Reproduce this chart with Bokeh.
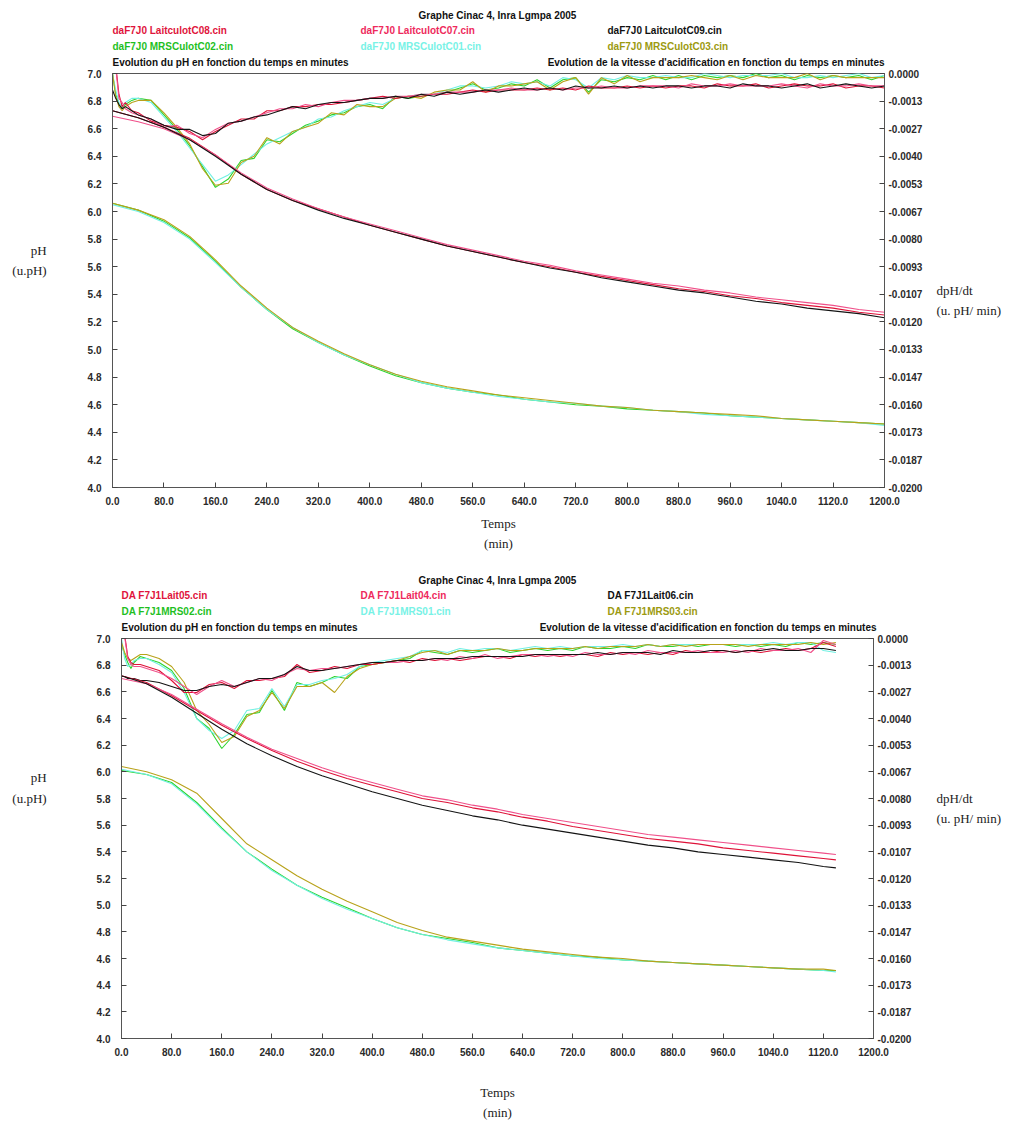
from bokeh.plotting import figure
from bokeh.models import Range1d, LinearAxis, FixedTicker, PrintfTickFormatter
from bokeh.layouts import column
from bokeh.core.properties import value
from bokeh.embed import file_html
from bokeh.resources import INLINE

# ---------------- tick values ----------------
x_ticks = [0, 80, 160, 240, 320, 400, 480, 560, 640, 720, 800, 880, 960, 1040, 1120, 1200]
ph_ticks = [4.0, 4.2, 4.4, 4.6, 4.8, 5.0, 5.2, 5.4, 5.6, 5.8, 6.0, 6.2, 6.4, 6.6, 6.8, 7.0]
d_ticks = [0.0, -0.00133, -0.00267, -0.0040, -0.00533, -0.00667, -0.0080, -0.00933,
           -0.01067, -0.0120, -0.01333, -0.01467, -0.0160, -0.01733, -0.01867, -0.0200]

# ---------------- chart 1 : daF7J0 ----------------
t_ph1 = [0, 40, 80, 120, 160, 200, 240, 280, 320, 360, 400, 440, 480, 520, 560, 600,
         640, 680, 720, 760, 800, 840, 880, 920, 960, 1000, 1040, 1080, 1120, 1160, 1200]
ph1_C08 = [6.73, 6.68, 6.61, 6.53, 6.41, 6.27, 6.16, 6.08, 6.02, 5.96, 5.90, 5.85, 5.80, 5.75, 5.71, 5.67,
           5.63, 5.60, 5.56, 5.53, 5.50, 5.47, 5.44, 5.42, 5.39, 5.37, 5.34, 5.32, 5.30, 5.27, 5.25]
ph1_C07 = [6.69, 6.65, 6.60, 6.52, 6.41, 6.28, 6.17, 6.09, 6.02, 5.96, 5.91, 5.86, 5.81, 5.76, 5.72, 5.68,
           5.64, 5.61, 5.57, 5.54, 5.51, 5.48, 5.46, 5.43, 5.41, 5.38, 5.36, 5.34, 5.32, 5.29, 5.27]
ph1_C09 = [6.73, 6.68, 6.61, 6.52, 6.40, 6.27, 6.16, 6.08, 6.01, 5.95, 5.90, 5.85, 5.80, 5.75, 5.71, 5.67,
           5.63, 5.59, 5.56, 5.52, 5.49, 5.46, 5.43, 5.41, 5.38, 5.35, 5.33, 5.30, 5.28, 5.26, 5.23]
ph1_C02 = [6.06, 6.01, 5.93, 5.81, 5.64, 5.45, 5.29, 5.15, 5.05, 4.96, 4.88, 4.81, 4.76, 4.72, 4.69, 4.67,
           4.64, 4.62, 4.60, 4.59, 4.57, 4.56, 4.55, 4.54, 4.52, 4.51, 4.50, 4.49, 4.48, 4.47, 4.46]
ph1_C01 = [6.05, 6.00, 5.92, 5.80, 5.63, 5.45, 5.29, 5.16, 5.05, 4.96, 4.89, 4.82, 4.76, 4.72, 4.69, 4.66,
           4.64, 4.62, 4.61, 4.59, 4.58, 4.56, 4.55, 4.53, 4.52, 4.51, 4.50, 4.49, 4.48, 4.47, 4.45]
ph1_C03 = [6.06, 6.01, 5.94, 5.82, 5.65, 5.46, 5.30, 5.16, 5.06, 4.97, 4.89, 4.82, 4.77, 4.73, 4.70, 4.67,
           4.65, 4.63, 4.61, 4.59, 4.58, 4.56, 4.55, 4.54, 4.53, 4.52, 4.50, 4.49, 4.48, 4.47, 4.46]

t_dv1 = [0, 5, 10, 15, 20, 30, 40, 60, 80, 100, 120, 140, 160,
         180, 200, 220, 240, 260, 280, 300, 320, 340, 360, 380, 400, 420,
         440, 460, 480, 500, 520, 540, 560, 580, 600, 620, 640, 660, 680,
         700, 720, 740, 760, 780, 800, 820, 840, 860, 880, 900, 920, 940,
         960, 980, 1000, 1020, 1040, 1060, 1080, 1100, 1120, 1140, 1160, 1180, 1200]
dv1_C08 = [0.0, 0.0004, -0.0010, -0.0016, -0.0014, -0.0018, -0.0019, -0.0023, -0.0025, -0.0026, -0.0028, -0.0032, -0.0028,
           -0.0025, -0.0022, -0.0022, -0.0018, -0.0018, -0.0016, -0.0016, -0.0015, -0.0015, -0.0014, -0.0013, -0.0012, -0.0011,
           -0.0012, -0.0011, -0.0011, -0.0010, -0.0010, -0.0009, -0.0008, -0.0009, -0.0008, -0.0008, -0.0008, -0.0007, -0.0008,
           -0.0007, -0.0008, -0.0006, -0.0007, -0.0007, -0.0006, -0.0007, -0.0006, -0.0007, -0.0006, -0.0006, -0.0007, -0.0005,
           -0.0006, -0.0006, -0.0005, -0.0007, -0.0006, -0.0005, -0.0006, -0.0006, -0.0005, -0.0007, -0.0006, -0.0006, -0.0007]
dv1_C07 = [0.0, 0.0003, -0.0012, -0.0014, -0.0017, -0.0019, -0.0020, -0.0022, -0.0026, -0.0025, -0.0029, -0.0031, -0.0027,
           -0.0024, -0.0023, -0.0021, -0.0019, -0.0017, -0.0017, -0.0015, -0.0016, -0.0014, -0.0013, -0.0013, -0.0012, -0.0012,
           -0.0011, -0.0011, -0.0010, -0.0010, -0.0009, -0.0009, -0.0009, -0.0008, -0.0008, -0.0007, -0.0008, -0.0008, -0.0007,
           -0.0008, -0.0007, -0.0007, -0.0006, -0.0007, -0.0007, -0.0006, -0.0006, -0.0006, -0.0007, -0.0005, -0.0006, -0.0006,
           -0.0005, -0.0006, -0.0006, -0.0006, -0.0005, -0.0006, -0.0007, -0.0005, -0.0006, -0.0006, -0.0005, -0.0006, -0.0006]
dv1_C09 = [-0.0008, -0.0012, -0.0015, -0.0017, -0.0016, -0.0018, -0.0020, -0.0022, -0.0025, -0.0027, -0.0027, -0.0030, -0.0029,
           -0.0024, -0.0023, -0.0021, -0.0020, -0.0018, -0.0016, -0.0017, -0.0015, -0.0014, -0.0014, -0.0013, -0.0012, -0.0012,
           -0.0011, -0.0012, -0.0010, -0.0011, -0.0009, -0.0010, -0.0009, -0.0008, -0.0009, -0.0008, -0.0007, -0.0008, -0.0007,
           -0.0008, -0.0006, -0.0007, -0.0007, -0.0006, -0.0007, -0.0006, -0.0007, -0.0006, -0.0006, -0.0007, -0.0006, -0.0006,
           -0.0007, -0.0005, -0.0006, -0.0006, -0.0007, -0.0006, -0.0005, -0.0007, -0.0006, -0.0005, -0.0006, -0.0007, -0.0006]
dv1_C02 = [0.0, -0.0010, -0.0015, -0.0017, -0.0015, -0.0013, -0.0012, -0.0013, -0.0020, -0.0027, -0.0035, -0.0045, -0.0055,
           -0.0051, -0.0042, -0.0041, -0.0032, -0.0033, -0.0029, -0.0025, -0.0023, -0.0020, -0.0019, -0.0016, -0.0015, -0.0017,
           -0.0011, -0.0012, -0.0011, -0.0010, -0.0009, -0.0007, -0.0005, -0.0008, -0.0007, -0.0005, -0.0006, -0.0003, -0.0007,
           -0.0003, -0.0002, -0.0009, -0.0003, -0.0004, -0.0002, -0.0003, -0.0001, -0.0003, -0.0001, -0.0003, -0.0001, -0.0002,
           -0.0001, -0.0002, 0.0000, -0.0002, -0.0001, -0.0003, -0.0001, -0.0002, -0.0001, -0.0002, -0.0001, -0.0003, -0.0001]
dv1_C01 = [0.0, -0.0008, -0.0014, -0.0016, -0.0014, -0.0012, -0.0012, -0.0014, -0.0021, -0.0028, -0.0036, -0.0044, -0.0052,
           -0.0049, -0.0044, -0.0039, -0.0034, -0.0031, -0.0028, -0.0026, -0.0022, -0.0021, -0.0018, -0.0016, -0.0014, -0.0015,
           -0.0012, -0.0011, -0.0010, -0.0010, -0.0008, -0.0006, -0.0006, -0.0007, -0.0006, -0.0004, -0.0005, -0.0004, -0.0006,
           -0.0002, -0.0003, -0.0007, -0.0002, -0.0003, -0.0001, -0.0002, -0.0002, -0.0001, -0.0002, -0.0002, 0.0000, -0.0001,
           -0.0002, -0.0001, -0.0001, -0.0001, 0.0000, -0.0002, -0.0002, -0.0001, -0.0002, -0.0001, 0.0000, -0.0002, -0.0001]
dv1_C03 = [0.0, -0.0011, -0.0016, -0.0018, -0.0016, -0.0014, -0.0013, -0.0013, -0.0019, -0.0026, -0.0034, -0.0046, -0.0054,
           -0.0053, -0.0043, -0.0040, -0.0031, -0.0034, -0.0028, -0.0026, -0.0024, -0.0019, -0.0020, -0.0015, -0.0016, -0.0016,
           -0.0012, -0.0011, -0.0012, -0.0009, -0.0008, -0.0008, -0.0004, -0.0009, -0.0006, -0.0006, -0.0005, -0.0004, -0.0008,
           -0.0004, -0.0002, -0.0010, -0.0002, -0.0005, -0.0001, -0.0004, -0.0002, -0.0002, -0.0002, -0.0001, -0.0002, -0.0003,
           -0.0001, -0.0003, -0.0001, -0.0002, -0.0002, -0.0002, 0.0000, -0.0003, -0.0001, -0.0002, -0.0002, -0.0002, -0.0002]

# ---------------- chart 2 : DA F7J1 ----------------
t_ph2 = [0, 40, 80, 120, 160, 200, 240, 280, 320, 360, 400, 440, 480, 520, 560, 600,
         640, 680, 720, 760, 800, 840, 880, 920, 960, 1000, 1040, 1080, 1120, 1140]
ph2_L05 = [6.72, 6.67, 6.57, 6.46, 6.35, 6.25, 6.16, 6.08, 6.01, 5.95, 5.90, 5.85, 5.80, 5.77, 5.73,
           5.70, 5.66, 5.63, 5.59, 5.56, 5.53, 5.50, 5.48, 5.46, 5.43, 5.41, 5.39, 5.37, 5.35, 5.34]
ph2_L04 = [6.70, 6.66, 6.58, 6.47, 6.36, 6.26, 6.17, 6.10, 6.03, 5.97, 5.92, 5.87, 5.82, 5.79, 5.75,
           5.72, 5.68, 5.65, 5.62, 5.59, 5.56, 5.53, 5.51, 5.49, 5.47, 5.45, 5.43, 5.41, 5.39, 5.38]
ph2_L06 = [6.72, 6.66, 6.56, 6.44, 6.32, 6.21, 6.12, 6.04, 5.97, 5.91, 5.85, 5.80, 5.75, 5.71, 5.67,
           5.64, 5.60, 5.57, 5.54, 5.51, 5.48, 5.45, 5.43, 5.40, 5.38, 5.36, 5.34, 5.32, 5.29, 5.28]
ph2_M02 = [6.01, 5.98, 5.92, 5.77, 5.58, 5.40, 5.27, 5.15, 5.06, 4.98, 4.90, 4.83, 4.78, 4.75, 4.72,
           4.68, 4.66, 4.64, 4.62, 4.61, 4.59, 4.58, 4.57, 4.56, 4.55, 4.54, 4.53, 4.52, 4.51, 4.51]
ph2_M01 = [6.02, 5.98, 5.91, 5.76, 5.57, 5.40, 5.26, 5.15, 5.05, 4.97, 4.90, 4.83, 4.78, 4.74, 4.71,
           4.68, 4.66, 4.64, 4.62, 4.60, 4.59, 4.58, 4.57, 4.56, 4.55, 4.54, 4.53, 4.52, 4.51, 4.50]
ph2_M03 = [6.04, 6.00, 5.94, 5.84, 5.65, 5.46, 5.34, 5.22, 5.12, 5.03, 4.95, 4.87, 4.81, 4.76, 4.73,
           4.70, 4.67, 4.65, 4.63, 4.61, 4.60, 4.58, 4.57, 4.56, 4.55, 4.54, 4.53, 4.52, 4.52, 4.51]

t_dv2 = [0, 5, 10, 15, 20, 30, 40, 60, 80, 100, 120, 140, 160,
         180, 200, 220, 240, 260, 280, 300, 320, 340, 360, 380, 400, 420,
         440, 460, 480, 500, 520, 540, 560, 580, 600, 620, 640, 660, 680,
         700, 720, 740, 760, 780, 800, 820, 840, 860, 880, 900, 920, 940,
         960, 980, 1000, 1020, 1040, 1060, 1080, 1100, 1120, 1140]
dv2_L05 = [0.0003, 0.0002, -0.0009, -0.0012, -0.0013, -0.0013, -0.0014, -0.0016, -0.0021, -0.0027, -0.0027, -0.0023, -0.0022,
           -0.0025, -0.0021, -0.0021, -0.0020, -0.0019, -0.0013, -0.0017, -0.0016, -0.0014, -0.0015, -0.0013, -0.0013, -0.0012,
           -0.0011, -0.0012, -0.0010, -0.0011, -0.0010, -0.0011, -0.0010, -0.0009, -0.0009, -0.0010, -0.0008, -0.0009, -0.0008,
           -0.0009, -0.0008, -0.0008, -0.0009, -0.0007, -0.0008, -0.0007, -0.0008, -0.0007, -0.0008, -0.0006, -0.0007, -0.0007,
           -0.0006, -0.0007, -0.0006, -0.0007, -0.0006, -0.0005, -0.0006, -0.0005, -0.0002, -0.0004]
dv2_L04 = [0.0002, 0.0001, -0.0010, -0.0013, -0.0014, -0.0014, -0.0015, -0.0017, -0.0020, -0.0024, -0.0028, -0.0024, -0.0021,
           -0.0024, -0.0022, -0.0020, -0.0021, -0.0018, -0.0015, -0.0016, -0.0015, -0.0015, -0.0014, -0.0013, -0.0012, -0.0012,
           -0.0012, -0.0011, -0.0011, -0.0010, -0.0011, -0.0009, -0.0010, -0.0008, -0.0010, -0.0009, -0.0008, -0.0008, -0.0009,
           -0.0008, -0.0009, -0.0007, -0.0008, -0.0008, -0.0007, -0.0008, -0.0006, -0.0007, -0.0007, -0.0007, -0.0006, -0.0007,
           -0.0007, -0.0006, -0.0007, -0.0005, -0.0006, -0.0006, -0.0005, -0.0007, -0.0001, -0.0003]
dv2_L06 = [-0.0019, -0.0019, -0.0020, -0.0020, -0.0020, -0.0021, -0.0021, -0.0022, -0.0024, -0.0026, -0.0026, -0.0024, -0.0023,
           -0.0024, -0.0022, -0.0020, -0.0020, -0.0018, -0.0014, -0.0016, -0.0016, -0.0015, -0.0014, -0.0013, -0.0012, -0.0012,
           -0.0011, -0.0011, -0.0011, -0.0010, -0.0010, -0.0010, -0.0009, -0.0009, -0.0009, -0.0009, -0.0009, -0.0008, -0.0008,
           -0.0008, -0.0008, -0.0008, -0.0007, -0.0008, -0.0007, -0.0007, -0.0007, -0.0008, -0.0006, -0.0007, -0.0007, -0.0006,
           -0.0006, -0.0007, -0.0006, -0.0006, -0.0005, -0.0006, -0.0006, -0.0005, -0.0005, -0.0006]
dv2_M02 = [-0.0003, -0.0008, -0.0012, -0.0015, -0.0012, -0.0009, -0.0010, -0.0012, -0.0016, -0.0025, -0.0040, -0.0045, -0.0055,
           -0.0048, -0.0038, -0.0037, -0.0026, -0.0036, -0.0022, -0.0024, -0.0022, -0.0019, -0.0020, -0.0014, -0.0013, -0.0012,
           -0.0011, -0.0010, -0.0006, -0.0007, -0.0008, -0.0006, -0.0007, -0.0006, -0.0005, -0.0007, -0.0006, -0.0005, -0.0006,
           -0.0005, -0.0006, -0.0004, -0.0005, -0.0005, -0.0004, -0.0005, -0.0003, -0.0004, -0.0004, -0.0003, -0.0004, -0.0003,
           -0.0003, -0.0004, -0.0003, -0.0004, -0.0003, -0.0004, -0.0002, -0.0003, -0.0002, -0.0003]
dv2_M01 = [0.0000, -0.0010, -0.0014, -0.0013, -0.0011, -0.0010, -0.0010, -0.0013, -0.0017, -0.0027, -0.0040, -0.0046, -0.0050,
           -0.0046, -0.0036, -0.0035, -0.0025, -0.0034, -0.0023, -0.0023, -0.0021, -0.0020, -0.0018, -0.0014, -0.0012, -0.0011,
           -0.0010, -0.0009, -0.0006, -0.0006, -0.0007, -0.0005, -0.0006, -0.0005, -0.0005, -0.0006, -0.0005, -0.0004, -0.0005,
           -0.0004, -0.0005, -0.0004, -0.0004, -0.0004, -0.0003, -0.0004, -0.0003, -0.0004, -0.0003, -0.0003, -0.0003, -0.0003,
           -0.0003, -0.0003, -0.0003, -0.0003, -0.0002, -0.0003, -0.0002, -0.0002, -0.0006, -0.0007]
dv2_M03 = [-0.0002, -0.0007, -0.0010, -0.0011, -0.0010, -0.0008, -0.0008, -0.0010, -0.0014, -0.0022, -0.0036, -0.0043, -0.0052,
           -0.0049, -0.0039, -0.0036, -0.0027, -0.0035, -0.0024, -0.0024, -0.0022, -0.0027, -0.0019, -0.0015, -0.0013, -0.0012,
           -0.0011, -0.0009, -0.0007, -0.0006, -0.0008, -0.0006, -0.0006, -0.0006, -0.0005, -0.0006, -0.0006, -0.0005, -0.0005,
           -0.0005, -0.0005, -0.0004, -0.0005, -0.0004, -0.0004, -0.0004, -0.0003, -0.0004, -0.0003, -0.0004, -0.0003, -0.0003,
           -0.0003, -0.0003, -0.0004, -0.0003, -0.0003, -0.0003, -0.0003, -0.0002, -0.0003, -0.0002]

# ---------------- texts ----------------
title_txt = "Graphe Cinac 4, Inra Lgmpa 2005"
left_title = "Evolution du pH en fonction du temps en minutes"
right_title = "Evolution de la vitesse d'acidification en fonction du temps en minutes"
names1 = ["daF7J0 LaitculotC08.cin", "daF7J0 LaitculotC07.cin", "daF7J0 LaitculotC09.cin",
          "daF7J0 MRSCulotC02.cin", "daF7J0 MRSCulotC01.cin", "daF7J0 MRSCulotC03.cin"]
names2 = ["DA F7J1Lait05.cin", "DA F7J1Lait04.cin", "DA F7J1Lait06.cin",
          "DA F7J1MRS02.cin", "DA F7J1MRS01.cin", "DA F7J1MRS03.cin"]
ylab_left = "pH\n(u.pH)"
ylab_right = "dpH/dt\n(u. pH/ min)"
xlab = "Temps\n(min)"

COLORS = ["#de1238", "#f0508a", "#141414", "#2ed42e", "#70f0e2", "#b8a21a"]
TEXT_COLORS = ["#e0143c", "#ee2a5c", "#111111", "#1fbf1f", "#78f2e6", "#9c9a10"]

SANS = "Liberation Sans"
SERIF = "Liberation Serif"
W = 1010


def no_align(fig):
    try:
        fig.frame_align = False
    except Exception:
        pass


def pad(text, before, after):
    # blank lines shift the centred two-line axis title up or down
    return "\n" * before + text + "\n" * after


def header(cfg, names):
    h = cfg["hh"]
    hf = figure(width=W, height=h, output_backend="svg", toolbar_location=None,
                x_range=Range1d(0, W), y_range=Range1d(h, 0),
                x_axis_location=None, y_axis_location=None,
                min_border=0, min_border_left=0, min_border_right=0,
                min_border_top=0, min_border_bottom=0,
                background_fill_color="white", border_fill_color="white",
                outline_line_color=None)
    no_align(hf)
    hf.xgrid.visible = False
    hf.ygrid.visible = False
    ys = cfg["rows"]
    common = dict(text_baseline="middle", text_font=value(SANS), text_font_size="10px",
                  text_font_style="bold")
    hf.text(x=[cfg["title_x"]], y=[ys[0]], text=[title_txt], text_align="center",
            text_color="#111111", **common)
    xs = cfg["cols"]
    hf.text(x=xs + xs + [xs[0]], y=[ys[1]] * 3 + [ys[2]] * 3 + [ys[3]],
            text=names[:3] + names[3:] + [left_title],
            text_color=TEXT_COLORS[:3] + TEXT_COLORS[3:] + ["#111111"],
            text_align="left", **common)
    hf.text(x=[cfg["right_x"]], y=[ys[3]], text=[right_title], text_align="right",
            text_color="#111111", **common)
    return hf


def build(cfg, t_ph, ph_series, t_dv, dv_series):
    p = figure(width=W, height=cfg["h"], output_backend="svg", toolbar_location=None,
               x_range=Range1d(0, 1200), y_range=Range1d(4.0, 7.0),
               min_border_left=cfg["bl"], min_border_right=cfg["br"],
               min_border_top=cfg["bt"], min_border_bottom=cfg["bb"],
               background_fill_color="white", border_fill_color="white",
               outline_line_color="#555555", outline_line_width=1)
    no_align(p)
    p.extra_y_ranges = {"d": Range1d(-0.02, 0.0)}
    p.add_layout(LinearAxis(y_range_name="d"), "right")
    p.xgrid.visible = False
    p.ygrid.visible = False

    for ax in list(p.xaxis) + list(p.yaxis):
        ax.major_tick_in = 5
        ax.major_tick_out = 0
        ax.minor_tick_line_color = None
        ax.axis_line_color = "#555555"
        ax.major_tick_line_color = "#444444"
        ax.major_label_text_font = SANS
        ax.major_label_text_font_size = "10px"
        ax.major_label_text_font_style = "bold"
        ax.major_label_text_color = "#2a2a2a"
        ax.axis_label_text_font = SERIF
        ax.axis_label_text_font_size = "13px"
        ax.axis_label_text_font_style = "normal"
        ax.axis_label_text_color = "#222222"
        ax.axis_label_text_line_height = 1.35

    xa = p.xaxis[0]
    xa.ticker = FixedTicker(ticks=x_ticks)
    xa.formatter = PrintfTickFormatter(format="%.1f")
    xa.major_label_standoff = 9
    xa.axis_label = xlab
    xa.axis_label_standoff = cfg["xs"]
    ya = p.yaxis[0]
    ya.ticker = FixedTicker(ticks=ph_ticks)
    ya.formatter = PrintfTickFormatter(format="%.1f")
    ya.major_label_standoff = 11
    ya.axis_label = pad(ylab_left, *cfg["lpad"])
    ya.axis_label_orientation = "horizontal"
    ya.axis_label_standoff = cfg["ls"]
    ra = p.yaxis[1]
    ra.ticker = FixedTicker(ticks=d_ticks)
    ra.formatter = PrintfTickFormatter(format="%.4f")
    ra.major_label_standoff = 4
    ra.axis_label = pad(ylab_right, *cfg["rpad"])
    ra.axis_label_orientation = "horizontal"
    ra.axis_label_standoff = cfg["rs"]

    for i in [3, 4, 5, 0, 1, 2]:
        p.line(t_dv, dv_series[i], y_range_name="d", line_color=COLORS[i], line_width=1.1)
    for i in [3, 4, 5, 0, 1, 2]:
        p.line(t_ph, ph_series[i], line_color=COLORS[i], line_width=1.1)
    return p


# layout geometry (pixels)
hcfg1 = dict(hh=68, rows=[15, 30, 46, 62], cols=[112, 360, 607], title_x=497, right_x=884)
cfg1 = dict(h=502, bl=112, br=126, bt=5, bb=83, xs=8, ls=38, rs=11, lpad=(0, 2), rpad=(2, 0))
hcfg2 = dict(hh=63, rows=[10, 25, 41, 57], cols=[121, 360, 607], title_x=497, right_x=876)
cfg2 = dict(h=489, bl=121, br=137, bt=5, bb=80, xs=26, ls=47, rs=22, lpad=(0, 5), rpad=(0, 3))

h1 = header(hcfg1, names1)
p1 = build(cfg1, t_ph1, [ph1_C08, ph1_C07, ph1_C09, ph1_C02, ph1_C01, ph1_C03],
           t_dv1, [dv1_C08, dv1_C07, dv1_C09, dv1_C02, dv1_C01, dv1_C03])
h2 = header(hcfg2, names2)
p2 = build(cfg2, t_ph2, [ph2_L05, ph2_L04, ph2_L06, ph2_M02, ph2_M01, ph2_M03],
           t_dv2, [dv2_L05, dv2_L04, dv2_L06, dv2_M02, dv2_M01, dv2_M03])

layout = column(h1, p1, h2, p2, spacing=0)
open("out.html", "w").write(file_html(layout, INLINE))
